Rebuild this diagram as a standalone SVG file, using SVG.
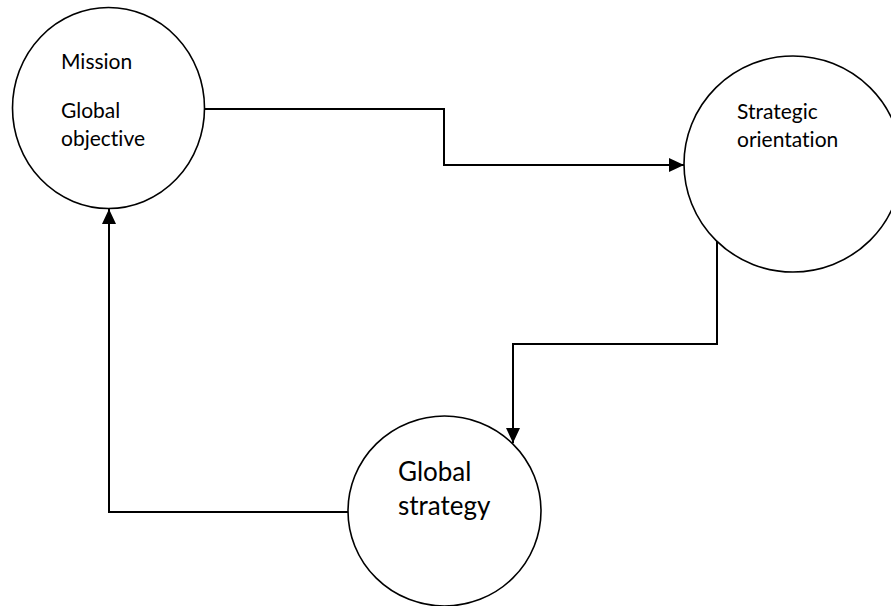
<svg xmlns="http://www.w3.org/2000/svg" width="891" height="606" viewBox="0 0 891 606">
  <style>
    .node { fill: #ffffff; stroke: #000000; stroke-width: 1.6; }
    .conn { fill: none; stroke: #000000; stroke-width: 2; }
    .t { font-family: Lato, "Open Sans", sans-serif; fill: #000000; font-variant-ligatures: none; }
    .s { font-size: 21px; }
    .l { font-size: 26px; }
  </style>
  <defs>
    <marker id="arrow" markerUnits="userSpaceOnUse" markerWidth="15" markerHeight="14" refX="15" refY="7" orient="auto">
      <path d="M0,0 L15,7 L0,14 z" fill="#000000"/>
    </marker>
  </defs>
  <rect width="891" height="606" fill="#ffffff"/>
  <g id="connectors">
    <polyline class="conn" points="204,109 444,109 444,165 684,165" marker-end="url(#arrow)"/>
    <polyline class="conn" points="717,241 717,344 513,344 513,443" marker-end="url(#arrow)"/>
    <polyline class="conn" points="348,512 109,512 109,209" marker-end="url(#arrow)"/>
  </g>
  <g id="mission">
    <ellipse class="node" cx="108.5" cy="108" rx="96" ry="100.5"/>
    <text class="t s" x="61" y="69">Mission</text>
    <text class="t s" x="61" y="118">Global</text>
    <text class="t s" x="61" y="146">objective</text>
  </g>
  <g id="strategic-orientation">
    <ellipse class="node" cx="793" cy="164" rx="109" ry="108"/>
    <text class="t s" x="737" y="119">Strategic</text>
    <text class="t s" x="737" y="147">orientation</text>
  </g>
  <g id="global-strategy">
    <ellipse class="node" cx="444.5" cy="511" rx="96.5" ry="95"/>
    <text class="t l" x="398" y="481">Global</text>
    <text class="t l" x="398" y="515">strategy</text>
  </g>
</svg>
